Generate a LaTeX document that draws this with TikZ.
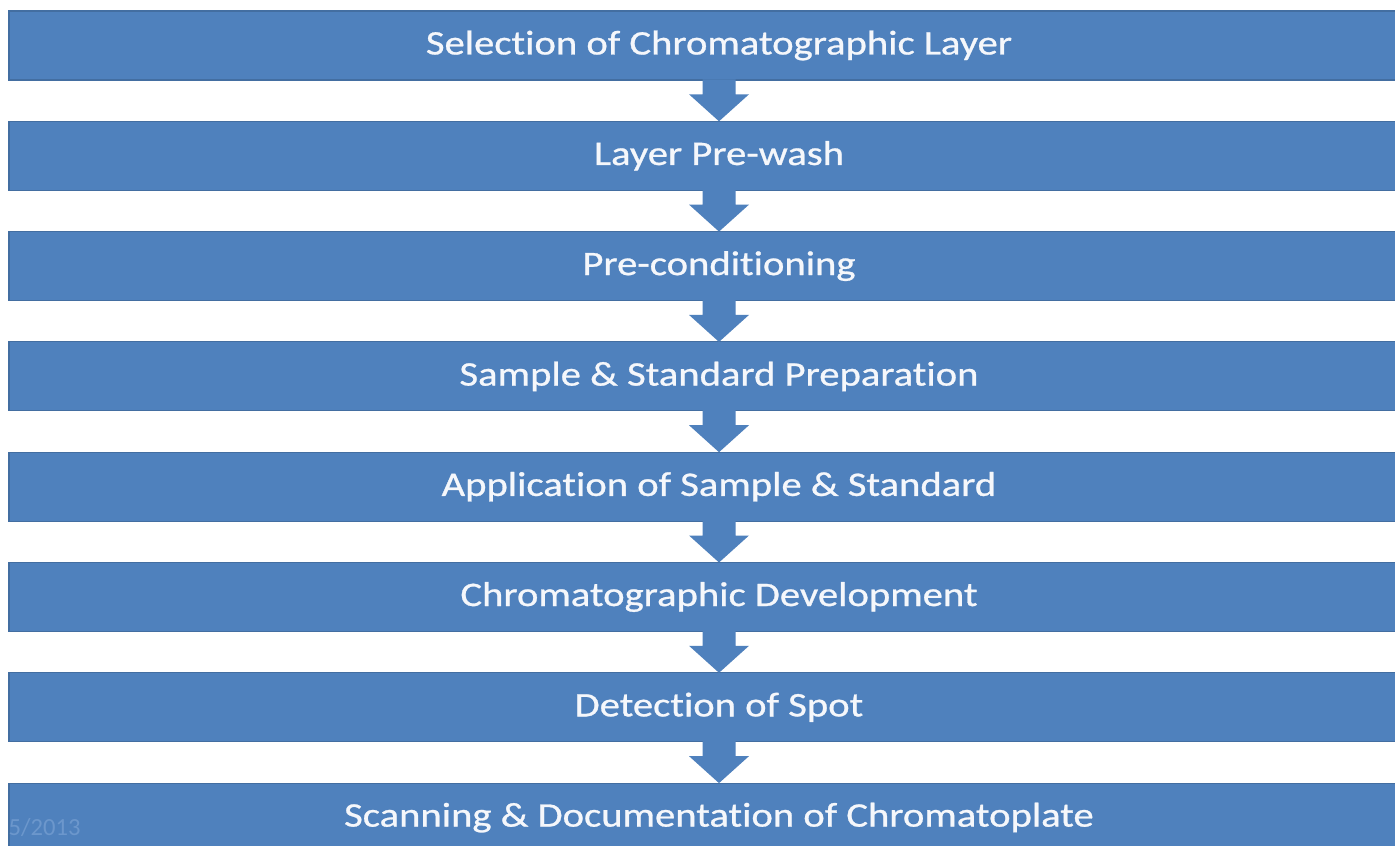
\documentclass[tikz,border=0pt]{standalone}
\usepackage{fontspec}
\setmainfont{Carlito}
\newfontfamily\barfont[FakeStretch=1.18,FakeBold=0.8,RawFeature={-liga;-clig;-calt;-rlig;-dlig}]{Carlito}
\usepackage{tikz}
\usetikzlibrary{positioning}

\definecolor{barblue}{HTML}{4F81BD}
\definecolor{footblue}{HTML}{6C97CC}

\begin{document}
\begin{tikzpicture}[
    node distance=4.13mm,
    bar/.style={fill=barblue,draw=barblue!85!black,line width=0.3pt,
      minimum width=142mm,minimum height=6.9mm,inner sep=0pt,outer sep=0pt,
      text=white!94!barblue,font=\barfont\fontsize{9.8}{12}\selectfont},
    flow/.style={fill=barblue}]
  \useasboundingbox[fill=white] (0,0) rectangle (13.95,8.45);
  \node[bar] (select) at (7.19,7.995) {Selection of Chromatographic Layer};
  \node[bar,below=of select] (prewash) {Layer Pre-wash};
  \node[bar,below=of prewash] (precond) {Pre-conditioning};
  \node[bar,below=of precond] (prep) {Sample \& Standard Preparation};
  \node[bar,below=of prep] (apply) {Application of Sample \& Standard};
  \node[bar,below=of apply] (develop) {Chromatographic Development};
  \node[bar,below=of develop] (detect) {Detection of Spot};
  \node[bar,below=of detect] (scan) {Scanning \& Documentation of Chromatoplate};
  \node[anchor=base west,text=footblue,font=\fontsize{7}{9}\selectfont,inner sep=0pt]
    (date) at (0.08,0.1) {5/2013};
  % block arrows between the steps
  \foreach \a/\b in {select/prewash,prewash/precond,precond/prep,prep/apply,
                     apply/develop,develop/detect,detect/scan}
    \fill[flow] ([xshift=-1.65mm,yshift=0.2pt]\a.south)
      -- ([xshift=-1.65mm,yshift=2.7mm]\b.north)
      -- ([xshift=-3mm,yshift=2.7mm]\b.north)
      -- (\b.north)
      -- ([xshift=3mm,yshift=2.7mm]\b.north)
      -- ([xshift=1.65mm,yshift=2.7mm]\b.north)
      -- ([xshift=1.65mm,yshift=0.2pt]\a.south) -- cycle;
\end{tikzpicture}
\end{document}
